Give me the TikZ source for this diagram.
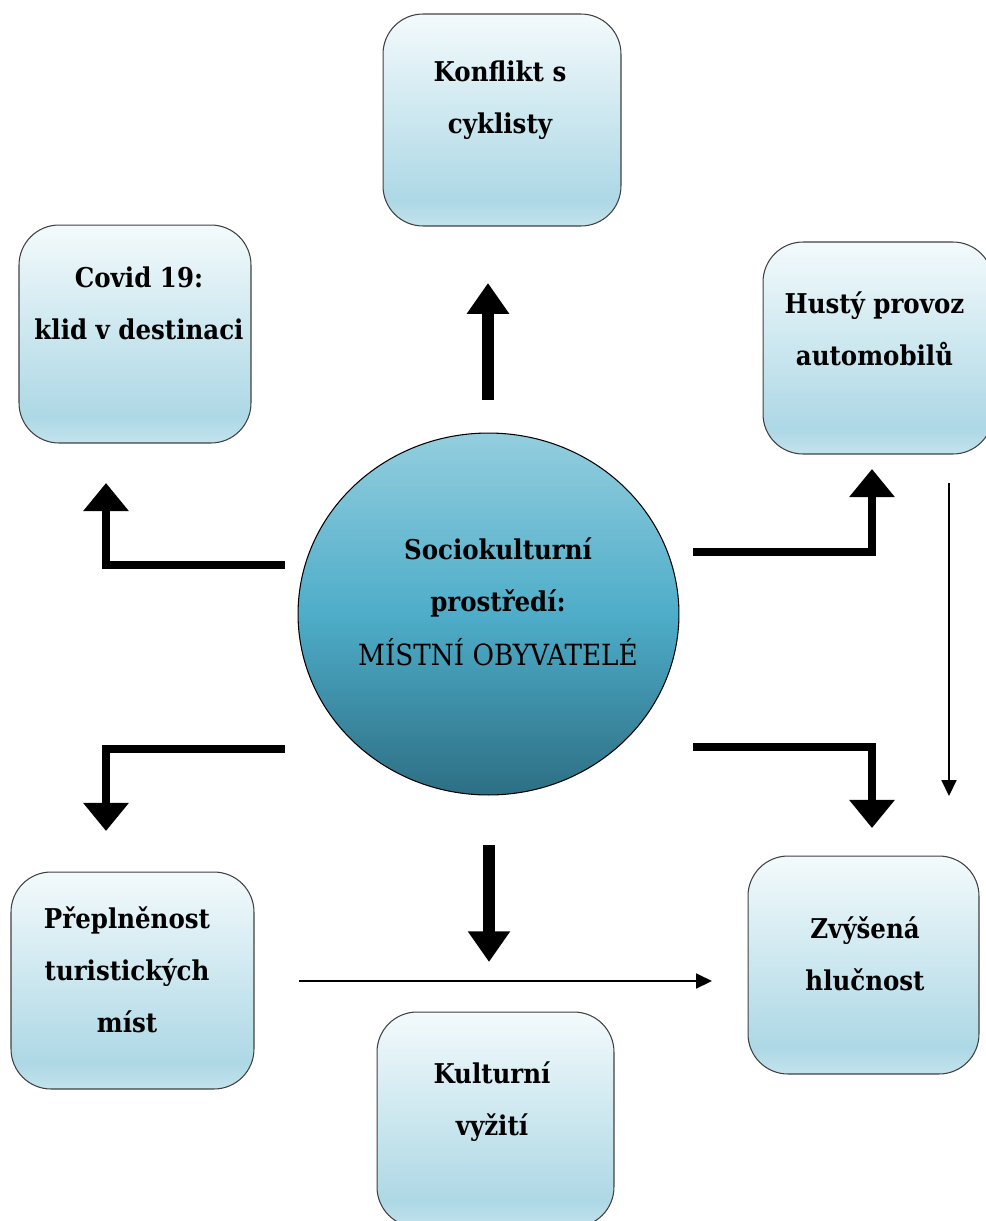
\documentclass[tikz,border=0pt]{standalone}
\usepackage{fontspec}
\setmainfont{DejaVu Serif Condensed}
\usetikzlibrary{arrows.meta,shapes.geometric}
\definecolor{boxtop}{HTML}{F3FAFC}
\definecolor{boxmid}{HTML}{ADD8E5}
\definecolor{boxbot}{HTML}{C3E3EC}
\definecolor{circtop}{HTML}{93CEDE}
\definecolor{circmid}{HTML}{4EADC9}
\definecolor{circbot}{HTML}{2D6F84}
\pgfdeclareverticalshading{boxshade}{100bp}{color(0bp)=(boxbot); color(25bp)=(boxbot); color(31bp)=(boxmid); color(75bp)=(boxtop); color(100bp)=(boxtop)}
\pgfdeclareverticalshading{circshade}{100bp}{color(0bp)=(circbot); color(25bp)=(circbot); color(50bp)=(circmid); color(75bp)=(circtop); color(100bp)=(circtop)}
\tikzset{
  effect/.style={draw=black!75, line width=0.6pt, rounded corners=0.8cm, shading=boxshade, inner sep=0pt},
  lbl/.style={font=\bfseries\fontsize{15.5}{29.5}\selectfont, align=center},
  fat/.style={line width=4.5pt, line join=miter, -{Triangle[width=25pt,length=16pt]}},
  fatter/.style={line width=6.8pt, -{Triangle[width=23pt,length=17.5pt]}},
  slim/.style={line width=0.9pt, -{Triangle[width=8.5pt,length=9pt]}}
}
\begin{document}
\begin{tikzpicture}[x=0.02cm,y=-0.02cm]
  \useasboundingbox (0,0) rectangle (985,1221);
  % centre
  \node[ellipse, draw, line width=0.6pt, shading=circshade, minimum width=7.62cm, minimum height=7.24cm] (soc) at (488.5,614) {};
  \node[lbl] (socT) at (498,602) {Sociokulturní\\prostředí:\\[1pt]{\mdseries\fontsize{16.6}{29.5}\selectfont MÍSTNÍ OBYVATELÉ}};
  % effects
  \node[effect, minimum width=4.76cm, minimum height=4.24cm] (konflikt) at (502,120) {};
  \node[lbl] (konfliktT) at (500,100) {Konflikt s\\cyklisty};
  \node[effect, minimum width=4.64cm, minimum height=4.36cm] (covid) at (135,334) {};
  \node[lbl] (covidT) at (139,303) {Covid 19:\\klid v destinaci};
  \node[effect, minimum width=4.6cm, minimum height=4.24cm] (husty) at (878,348) {};
  \node[lbl] (hustyT) at (874.5,328.5) {Hustý provoz\\automobilů};
  \node[effect, minimum width=4.86cm, minimum height=4.34cm] (prepl) at (132.5,980.5) {};
  \node[lbl] (preplT) at (127,970) {Přeplněnost\\turistických\\míst};
  \node[effect, minimum width=4.62cm, minimum height=4.36cm] (hluk) at (863.5,965) {};
  \node[lbl] (hlukT) at (865,954) {Zvýšená\\hlučnost};
  \node[effect, minimum width=4.74cm, minimum height=4.3cm] (kultura) at (495.5,1119.5) {};
  \node[lbl] (kulturaT) at (492,1102) {Kulturní\\vyžití};
  % arrow ends
  \coordinate (upS) at (488,400);   \coordinate (upE) at (488,283);
  \coordinate (ltS) at (285,565);   \coordinate (ltE) at (106,483);
  \coordinate (rtS) at (693,552);   \coordinate (rtE) at (872,469);
  \coordinate (lbS) at (285,749);   \coordinate (lbE) at (106,831);
  \coordinate (rbS) at (693,747);   \coordinate (rbE) at (872,828);
  \coordinate (dnS) at (489,845);   \coordinate (dnE) at (489,962);
  \coordinate (vS) at (949,483);    \coordinate (vE) at (949,796);
  \coordinate (hS) at (299,981);    \coordinate (hE) at (712,981);
  % arrows
  \draw[fatter] (upS) -- (upE);
  \draw[fatter] (dnS) -- (dnE);
  \draw[fat] (ltS) -| (ltE);
  \draw[fat] (rtS) -| (rtE);
  \draw[fat] (lbS) -| (lbE);
  \draw[fat] (rbS) -| (rbE);
  \draw[slim] (vS) -- (vE);
  \draw[slim] (hS) -- (hE);
\end{tikzpicture}
\end{document}
